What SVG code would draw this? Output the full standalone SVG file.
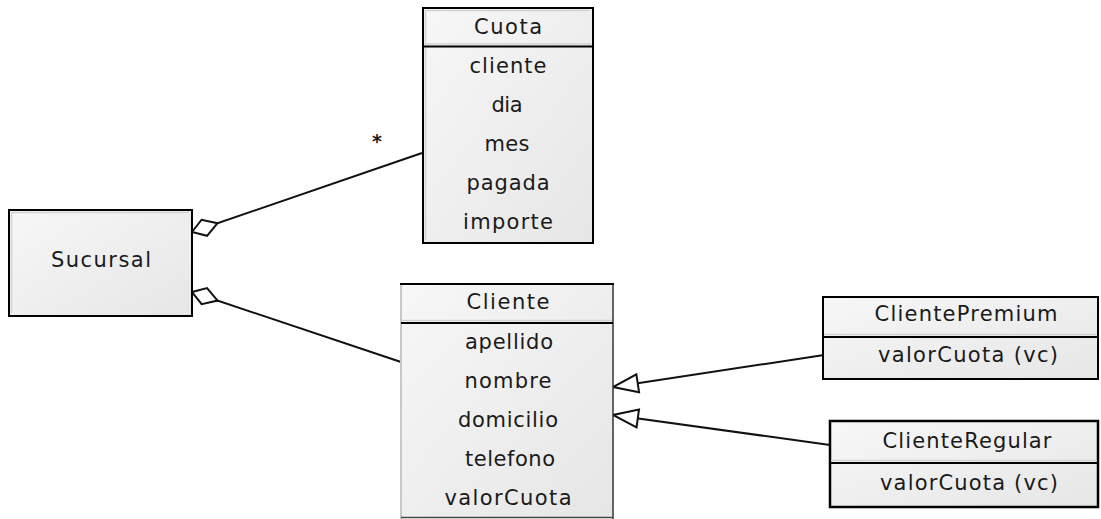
<svg xmlns="http://www.w3.org/2000/svg" width="1101" height="519" viewBox="0 0 1101 519">
  <style>
    .box { fill: url(#boxFill); stroke: #000; stroke-width: 2; }
    .sep { stroke: #000; stroke-width: 2; }
    .bevel { stroke: #d2d2d2; stroke-width: 1.5; fill: none; }
    .lbl { font-family: "DejaVu Sans", "Liberation Sans", sans-serif; font-size: 21px; fill: #1a1a1a; text-anchor: middle; }
    .conn { stroke: #111; stroke-width: 2; fill: none; }
  </style>
  <defs>
    <linearGradient id="boxFill" x1="0" y1="0" x2="1" y2="1">
      <stop offset="0" stop-color="#f7f7f7"/>
      <stop offset="1" stop-color="#e6e6e6"/>
    </linearGradient>
    <!-- hollow diamond: aggregation end -->
    <marker id="aggr" markerUnits="userSpaceOnUse" markerWidth="32" markerHeight="22" viewBox="-2 -10 32 20" refX="0" refY="0" orient="auto">
      <path d="M0,0 L13,-8.5 L27,0 L13,8.5 Z" fill="#fff" stroke="#111" stroke-width="2" stroke-linejoin="miter"/>
    </marker>
    <!-- hollow triangle: generalization end -->
    <marker id="gen" markerUnits="userSpaceOnUse" markerWidth="30" markerHeight="22" viewBox="-2 -11 30 22" refX="25" refY="0" orient="auto">
      <path d="M0,-9 L25,0 L0,9 Z" fill="#fff" stroke="#111" stroke-width="2"/>
    </marker>
  </defs>

  <!-- connectors -->
  <g id="connectors">
    <path class="conn" d="M192,232 L422,153" marker-start="url(#aggr)"/>
    <path class="conn" d="M192,292 L401,362" marker-start="url(#aggr)"/>
    <path class="conn" d="M824,355 L613,387" marker-end="url(#gen)"/>
    <path class="conn" d="M830,445 L613,415" marker-end="url(#gen)"/>
    <text class="lbl" x="377" y="148" style="font-size:19px;font-weight:bold">*</text>
  </g>

  <!-- Sucursal -->
  <g id="sucursal">
    <rect class="box" x="9" y="210" width="183" height="106"/>
    <path class="bevel" d="M11.5,313 V212.5 H189"/>
    <text class="lbl" x="101" y="267" textLength="100" lengthAdjust="spacing">Sucursal</text>
  </g>

  <!-- Cuota -->
  <g id="cuota">
    <rect class="box" x="423" y="8" width="170" height="235"/>
    <path class="bevel" d="M425.5,240 V10.5 H590"/>
    <line class="bevel" x1="425" y1="44" x2="591" y2="44"/>
    <line class="sep" x1="423" y1="46.5" x2="593" y2="46.5"/>
    <text class="lbl" x="508" y="34" textLength="68" lengthAdjust="spacing">Cuota</text>
    <text class="lbl" x="508" y="73" textLength="77" lengthAdjust="spacing">cliente</text>
    <text class="lbl" x="507" y="112" textLength="31" lengthAdjust="spacing">dia</text>
    <text class="lbl" x="507" y="151" textLength="45" lengthAdjust="spacing">mes</text>
    <text class="lbl" x="508" y="190" textLength="83" lengthAdjust="spacing">pagada</text>
    <text class="lbl" x="508" y="229" textLength="90" lengthAdjust="spacing">importe</text>
  </g>

  <!-- Cliente -->
  <g id="cliente">
    <rect x="401" y="284" width="212" height="234" fill="url(#boxFill)" stroke="none"/>
    <line x1="401" y1="284" x2="401" y2="519" stroke="#c8c8c8" stroke-width="2"/>
    <line x1="613" y1="284" x2="613" y2="519" stroke="#333" stroke-width="1.5"/>
    <line x1="400" y1="284" x2="614" y2="284" stroke="#000" stroke-width="2"/>
    <line x1="401" y1="517.5" x2="613" y2="517.5" stroke="#444" stroke-width="1.5"/>
    <line class="bevel" x1="402" y1="320.5" x2="612" y2="320.5"/>
    <line class="sep" x1="401" y1="323" x2="613" y2="323"/>
    <text class="lbl" x="508" y="309" textLength="83" lengthAdjust="spacing">Cliente</text>
    <text class="lbl" x="509" y="349" textLength="88" lengthAdjust="spacing">apellido</text>
    <text class="lbl" x="508" y="388" textLength="87" lengthAdjust="spacing">nombre</text>
    <text class="lbl" x="508" y="427" textLength="100" lengthAdjust="spacing">domicilio</text>
    <text class="lbl" x="510" y="466" textLength="90" lengthAdjust="spacing">telefono</text>
    <text class="lbl" x="508" y="505" textLength="127" lengthAdjust="spacing">valorCuota</text>
  </g>

  <!-- ClientePremium -->
  <g id="clientePremium">
    <rect class="box" x="823" y="297" width="275" height="82"/>
    <line class="bevel" x1="824" y1="334.5" x2="1097" y2="334.5"/>
    <line class="sep" x1="823" y1="337" x2="1098" y2="337"/>
    <text class="lbl" x="966" y="321" textLength="183" lengthAdjust="spacing">ClientePremium</text>
    <text class="lbl" x="968" y="362" textLength="180" lengthAdjust="spacing">valorCuota (vc)</text>
  </g>

  <!-- ClienteRegular -->
  <g id="clienteRegular">
    <rect class="box" x="830" y="421" width="268" height="86" style="stroke-width:2.5"/>
    <line class="bevel" x1="831" y1="460.5" x2="1097" y2="460.5"/>
    <line class="sep" x1="830" y1="463" x2="1098" y2="463"/>
    <text class="lbl" x="967" y="448" textLength="169" lengthAdjust="spacing">ClienteRegular</text>
    <text class="lbl" x="969" y="490" textLength="178" lengthAdjust="spacing">valorCuota (vc)</text>
  </g>
</svg>
